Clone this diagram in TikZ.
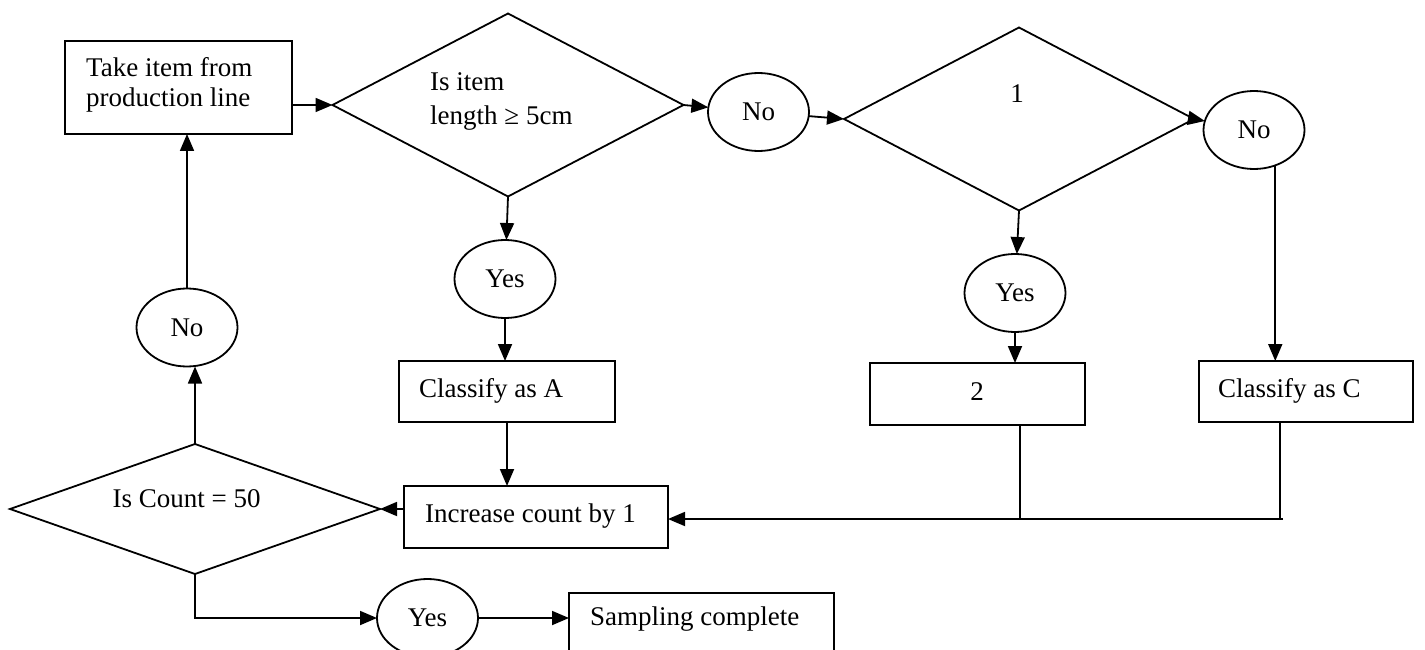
\documentclass[tikz,border=0pt]{standalone}
\usepackage{fontspec}
\setmainfont{Liberation Serif}
\usetikzlibrary{shapes.geometric,arrows.meta}
\begin{document}
\begin{tikzpicture}[x=1pt,y=-1pt,
  every node/.style={font=\fontsize{27}{31}\selectfont},
  box/.style={draw,line width=2pt,rectangle,inner sep=0pt,outer sep=0pt},
  dia/.style={draw,line width=1.8pt,diamond,inner sep=0pt,outer sep=0pt},
  oval/.style={draw,line width=1.8pt,ellipse,minimum width=101pt,minimum height=78pt,inner sep=0pt,outer sep=0pt},
  lbl/.style={anchor=base west,inner sep=0pt},
  arr/.style={line width=1.8pt,-{Triangle[length=17pt,width=14pt]}},
  ln/.style={line width=1.8pt}]
\useasboundingbox (0,0) rectangle (1425,650);
% boxes
\node[box,minimum width=227pt,minimum height=93pt] (take) at (178.5,87.5) {};
\node[box,minimum width=216pt,minimum height=61pt] (clA) at (507,391.5) {};
\node[box,minimum width=264pt,minimum height=62pt] (inc) at (536,517) {};
\node[box,minimum width=215pt,minimum height=62pt] (box2) at (977.5,394) {};
\node[box,minimum width=214pt,minimum height=61pt] (clC) at (1306,391.5) {};
\node[box,minimum width=265pt,minimum height=62pt] (samp) at (701.5,624) {};
% diamonds
\node[dia,minimum width=351pt,minimum height=183pt] (d1) at (508,105) {};
\node[dia,minimum width=350pt,minimum height=183pt] (d2) at (1019,119) {};
\node[dia,minimum width=370pt,minimum height=130pt] (d3) at (195,509) {};
% ovals
\node[oval] (no1) at (187,327.5) {No};
\node[oval] (yes1) at (505,279) {Yes};
\node[oval] (no2) at (758.5,112) {No};
\node[oval] (yes2) at (1015,293) {Yes};
\node[oval] (no3) at (1254,130) {No};
\node[oval] (yes3) at (427.5,618) {Yes};
% labels
\node[lbl] (t1) at (86,77) {Take item from};
\node[lbl] (t2) at (86,107) {production line};
\node[lbl] (q1) at (430,91) {Is item};
\node[lbl] (q2) at (430,125) {length ≥ 5cm};
\node[anchor=base,inner sep=0pt] (q3) at (1017,103) {1};
\node[lbl] (a1) at (419,397) {Classify as A};
\node[lbl] (a2) at (425,522) {Increase count by 1};
\node[lbl] (a3) at (112.5,507) {Is Count = 50};
\node[anchor=base,inner sep=0pt] (a4) at (977,400) {2};
\node[lbl] (a5) at (1218,397) {Classify as C};
\node[lbl] (a6) at (590,625) {Sampling complete};
% junctions
\coordinate (j1) at (1020,519);
\coordinate (j2) at (1280,519);
% connectors
\draw[arr] (take.east |- d1.west) -- (d1.west);
\draw[arr] (d1.east) -- (no2);
\draw[arr] (no2) -- (d2.west);
\draw[arr] (d2.east) -- (no3);
\draw[arr] (d1.south) -- (yes1);
\draw[arr] (yes1.south) -- (yes1.south |- clA.north);
\draw[arr] (clA.south) -- (clA.south |- inc.north);
\draw[arr] (inc.west |- d3.east) -- (d3.east);
\draw[arr] (d3.north) -- (d3.north |- no1.south);
\draw[arr] (no1.north) -- (no1.north |- take.south);
\draw[arr] (d3.south) |- (yes3);
\draw[arr] (yes3) -- (yes3 -| samp.west);
\draw[arr] (d2.south) -- (yes2);
\draw[arr] (yes2.south) -- (yes2.south |- box2.north);
\draw[arr] (no3.-59) -- (no3.-59 |- clC.north);
\draw[ln] (j1 |- box2.south) -- (j1);
\draw[ln] (j2 |- clC.south) -- (j2);
\draw[arr] ([xshift=3pt]j2) -- (j2 -| inc.east);
\end{tikzpicture}
\end{document}
